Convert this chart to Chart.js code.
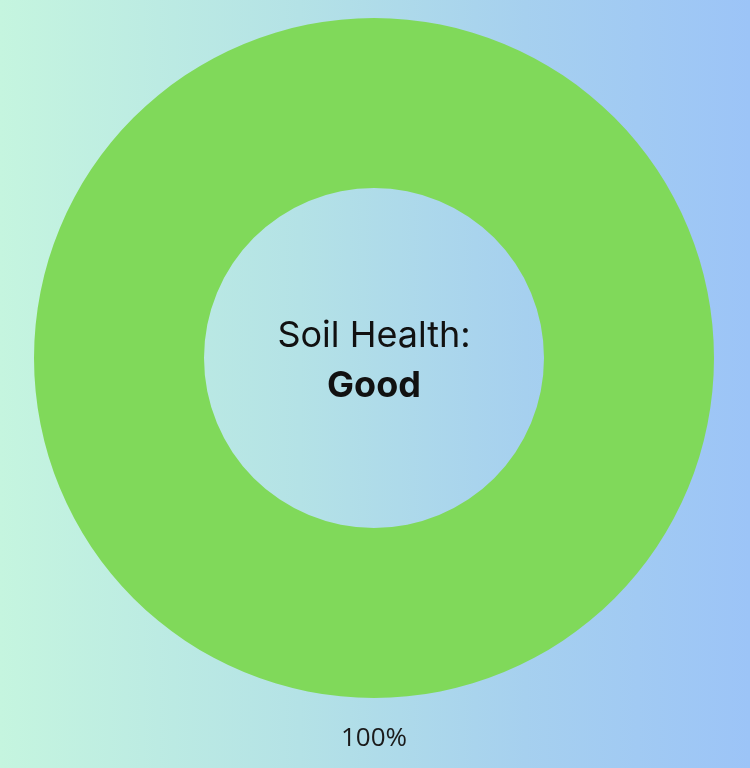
<!DOCTYPE html>
<html>
<head>
<meta charset="utf-8">
<script src="https://cdn.jsdelivr.net/npm/chart.js@4"></script>
<style>
html,body{margin:0;padding:0;}
body{width:750px;height:768px;background:linear-gradient(to right,#c5f5df 0%,#b4e2e6 40%,#a6d0ef 70%,#9cc4f7 100%);overflow:hidden;}
#wrap{position:relative;width:750px;height:768px;}
</style>
</head>
<body>
<div id="wrap"><canvas id="c"></canvas></div>
<script>
const categories = ['Good'];
const values = [100];
const colors = ['#80d95a'];
const centerTitle = 'Soil Health:';

const centerText = {
  id: 'centerText',
  afterDraw(chart) {
    const ctx = chart.ctx;
    const meta = chart.getDatasetMeta(0);
    const arc = meta.data[0];
    const cx = arc.x, cy = arc.y;
    ctx.save();
    ctx.textAlign = 'center';
    ctx.textBaseline = 'alphabetic';
    ctx.fillStyle = '#111111';
    ctx.font = '400 36px Inter, "Open Sans", sans-serif';
    ctx.fillText(centerTitle, cx, cy - 11);
    ctx.font = '700 36px Inter, "Open Sans", sans-serif';
    ctx.fillText(categories[0], cx, cy + 39);
    // percentage label below the ring
    const total = values.reduce((a, b) => a + b, 0);
    ctx.font = '400 26px "Open Sans", sans-serif';
    ctx.fillStyle = '#1a1a1a';
    ctx.fillText(Math.round(values[0] / total * 100) + '%', cx, arc.y + arc.outerRadius + 48);
    ctx.restore();
  }
};

new Chart(document.getElementById('c'), {
  type: 'doughnut',
  data: {
    labels: categories,
    datasets: [{ data: values, backgroundColor: colors, borderWidth: 0 }]
  },
  options: {
    responsive: true,
    maintainAspectRatio: false,
    animation: false,
    cutout: '50%',
    layout: { padding: { top: 18, bottom: 70, left: 0, right: 2 } },
    plugins: { legend: { display: false }, tooltip: { enabled: false } }
  },
  plugins: [centerText]
});
</script>
</body>
</html>
